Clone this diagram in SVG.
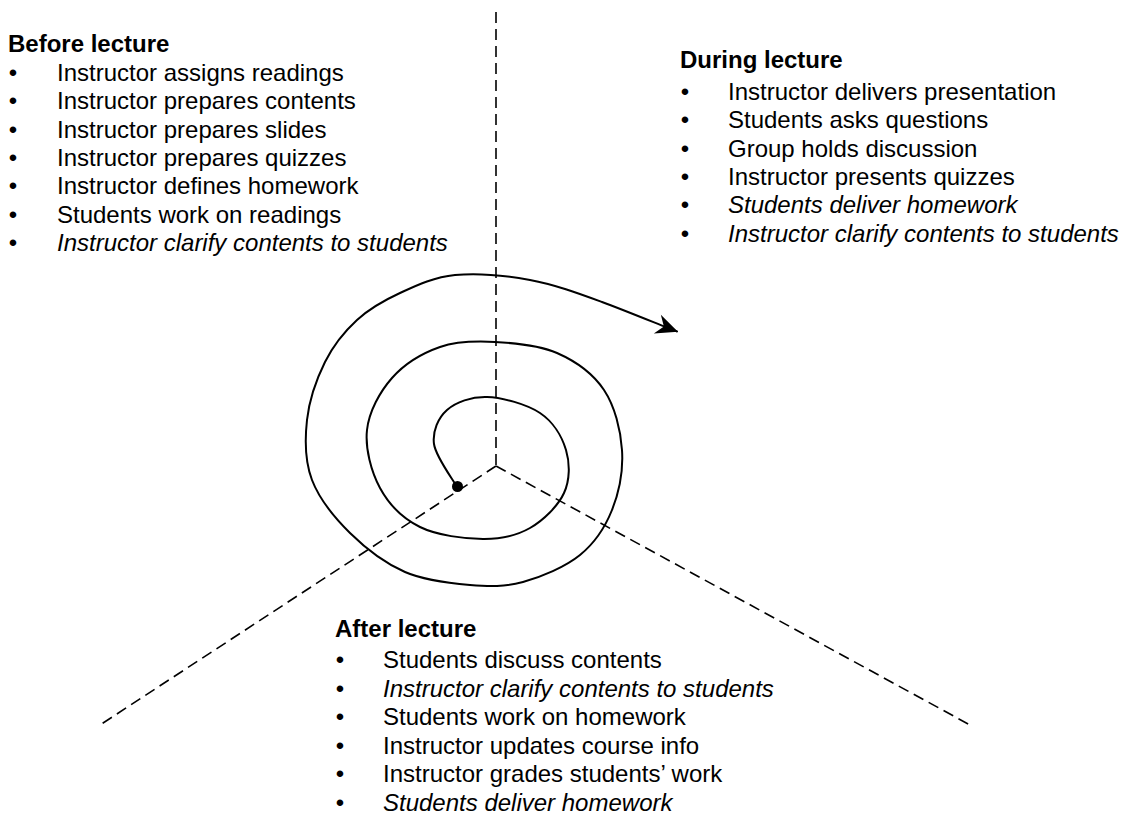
<svg xmlns="http://www.w3.org/2000/svg" width="1123" height="817" viewBox="0 0 1123 817">
<style>
text{font-family:"Liberation Sans",Arial,sans-serif;font-size:24px;fill:#000}
.h{font-weight:bold}
.i{font-style:italic}
.b{text-anchor:middle}
.dash{fill:none;stroke:#000;stroke-width:1.6;stroke-dasharray:11,6}
.spiral{fill:none;stroke:#000;stroke-width:2;stroke-linejoin:round;stroke-linecap:round}
</style>
<defs>
<marker id="arr" markerUnits="userSpaceOnUse" markerWidth="34" markerHeight="30" refX="0" refY="0" viewBox="-28 -15 32 30" orient="auto">
<path d="M1,0 L-21,-10 L-14,0 L-21,10 Z" fill="#000"/>
</marker>
</defs>
<rect width="1123" height="817" fill="#fff"/>
<g id="connectors">
<path class="dash" d="M496,12 L496,466"/>
<path class="dash" d="M496,466 L100,725"/>
<path class="dash" d="M496,466 L970,725"/>
<path class="spiral" marker-end="url(#arr)" d="M457,487 C453.2,479.8 435.7,456.8 434,444 C432.3,431.2 438.2,417.8 447,410 C455.8,402.2 471.5,396.5 487,397 C502.5,397.5 526.8,404.2 540,413 C553.2,421.8 562,436.7 566,450 C570,463.3 570,480 564,493 C558,506 543.5,520.3 530,528 C516.5,535.7 501.3,539.2 483,539 C464.7,538.8 437.2,535.5 420,527 C402.8,518.5 388.8,504.2 380,488 C371.2,471.8 365,448.3 367,430 C369,411.7 379.8,391.8 392,378 C404.2,364.2 422.8,353 440,347 C457.2,341 475.5,341 495,342 C514.5,343 538.8,345 557,353 C575.2,361 593.2,373.8 604,390 C614.8,406.2 620.7,430 622,450 C623.3,470 619,492.5 612,510 C605,527.5 594.8,543 580,555 C565.2,567 541.3,577 523,582 C504.7,587 489.7,586.7 470,585 C450.3,583.3 425,580.7 405,572 C385,563.3 365.5,548.3 350,533 C334.5,517.7 319.2,498.8 312,480 C304.8,461.2 304.8,439.7 307,420 C309.2,400.3 316.7,378.7 325,362 C333.3,345.3 344.5,331.5 357,320 C369.5,308.5 383.7,300.5 400,293 C416.3,285.5 433.3,277.2 455,275 C476.7,272.8 505.5,275.5 530,280 C554.5,284.5 578.3,293.3 602,302 C625.7,310.7 665,327 677,331.5"/>
<circle id="start-dot" cx="457.5" cy="486.5" r="5.5" fill="#000"/>
</g>
<g id="before-lecture">
<text class="h" x="8" y="52">Before lecture</text>
<text class="b" x="13" y="81">•</text><text x="57" y="81">Instructor assigns readings</text>
<text class="b" x="13" y="109.3">•</text><text x="57" y="109.3">Instructor prepares contents</text>
<text class="b" x="13" y="137.6">•</text><text x="57" y="137.6">Instructor prepares slides</text>
<text class="b" x="13" y="165.9">•</text><text x="57" y="165.9">Instructor prepares quizzes</text>
<text class="b" x="13" y="194.2">•</text><text x="57" y="194.2">Instructor defines homework</text>
<text class="b" x="13" y="222.5">•</text><text x="57" y="222.5">Students work on readings</text>
<text class="b" x="13" y="250.8">•</text><text class="i" x="57" y="250.8">Instructor clarify contents to students</text>
</g>
<g id="during-lecture">
<text class="h" x="680" y="68">During lecture</text>
<text class="b" x="685" y="100">•</text><text x="728" y="100">Instructor delivers presentation</text>
<text class="b" x="685" y="128.3">•</text><text x="728" y="128.3">Students asks questions</text>
<text class="b" x="685" y="156.6">•</text><text x="728" y="156.6">Group holds discussion</text>
<text class="b" x="685" y="184.9">•</text><text x="728" y="184.9">Instructor presents quizzes</text>
<text class="b" x="685" y="213.2">•</text><text class="i" x="728" y="213.2">Students deliver homework</text>
<text class="b" x="685" y="241.5">•</text><text class="i" x="728" y="241.5">Instructor clarify contents to students</text>
</g>
<g id="after-lecture">
<text class="h" x="335" y="637">After lecture</text>
<text class="b" x="340" y="668">•</text><text x="383" y="668">Students discuss contents</text>
<text class="b" x="340" y="696.5">•</text><text class="i" x="383" y="696.5">Instructor clarify contents to students</text>
<text class="b" x="340" y="725">•</text><text x="383" y="725">Students work on homework</text>
<text class="b" x="340" y="753.5">•</text><text x="383" y="753.5">Instructor updates course info</text>
<text class="b" x="340" y="782">•</text><text x="383" y="782">Instructor grades students’ work</text>
<text class="b" x="340" y="810.5">•</text><text class="i" x="383" y="810.5">Students deliver homework</text>
</g>
</svg>
